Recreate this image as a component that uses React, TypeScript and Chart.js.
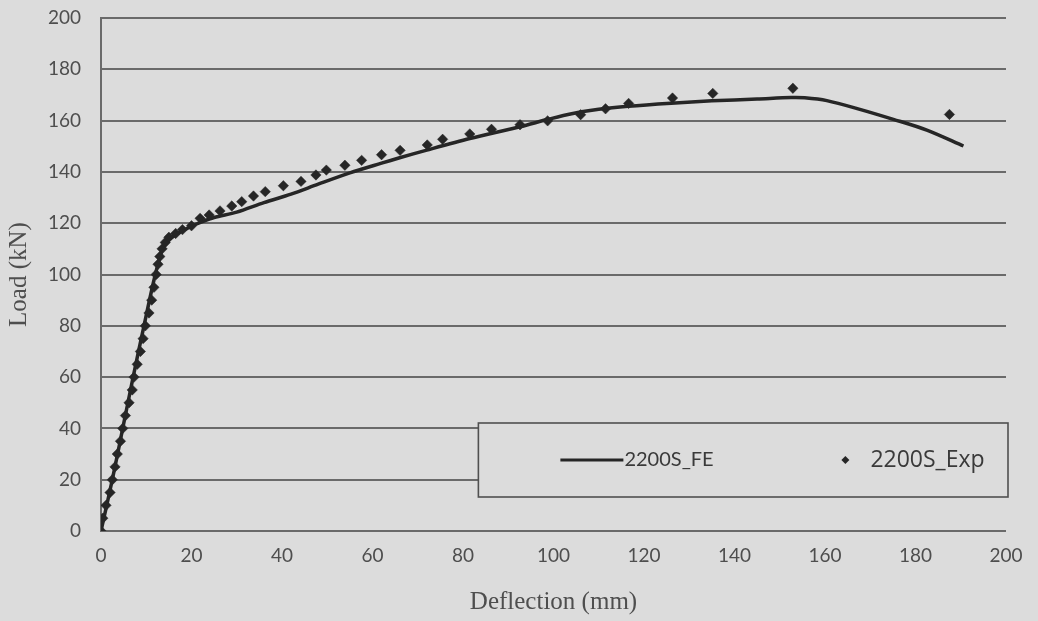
import React, { useEffect, useRef } from "react";
import { Chart, registerables } from "chart.js";

Chart.register(...registerables);

// FE curve (deflection mm, load kN)
const feDeflection = [0, 2.5, 4.8, 7.1, 9.5, 12, 13.8, 15, 16.5, 18, 20, 22, 25, 30, 36, 42, 48, 55, 62, 66, 72, 81.5, 92.6, 98.8, 104, 110, 116.5, 126, 135, 145, 152.5, 155.5, 160.4, 167.7, 175.1, 182.5, 190.6];
const feLoad = [0, 20, 40, 60, 80, 100, 111, 113.5, 115.5, 117, 118.8, 120.3, 122.2, 124.3, 128, 131.3, 135.2, 139.6, 143.4, 145.5, 148.5, 153, 157.6, 160.5, 162.7, 164.4, 165.6, 166.8, 167.7, 168.4, 169, 168.9, 167.8, 164.4, 160.5, 156.3, 150.1];

// Experimental points
const expDeflection = [0, 0.4, 1.1, 2, 2.5, 3.1, 3.6, 4.3, 4.8, 5.4, 6.2, 6.9, 7.3, 8.0, 8.7, 9.3, 9.8, 10.6, 11.2, 11.7, 12.2, 12.6, 13.0, 13.5, 14.2, 15, 16.5, 18, 20, 21.9, 23.9, 26.3, 28.9, 31.1, 33.7, 36.3, 40.3, 44.2, 47.5, 49.8, 53.9, 57.6, 62, 66.1, 72.1, 75.5, 81.5, 86.3, 92.6, 98.7, 106, 111.5, 116.6, 126.3, 135.2, 152.9, 187.5];
const expLoad = [0, 5, 10, 15, 20, 25, 30, 35, 40, 45, 50, 55, 60, 65, 70, 75, 80, 85, 90, 95, 100, 104, 107, 110, 112.5, 114.5, 116, 117.5, 119, 121.9, 123.2, 124.8, 126.7, 128.4, 130.6, 132.3, 134.6, 136.3, 138.8, 140.7, 142.6, 144.5, 146.7, 148.4, 150.5, 152.7, 154.8, 156.6, 158.4, 159.9, 162.3, 164.6, 166.7, 168.8, 170.6, 172.6, 162.4];

const xTicks = [0, 20, 40, 60, 80, 100, 120, 140, 160, 180, 200];
const yTicks = [0, 20, 40, 60, 80, 100, 120, 140, 160, 180, 200];

const seriesNames = ["2200S_FE", "2200S_Exp"];

const BG = "#dcdcdc";
const GRID = "#6a6a6a";
const TEXT = "#4e4e4e";
const INK = "#262626";

const bgPlugin = {
  id: "bgFill",
  beforeDraw(chart: any) {
    const { ctx, width, height } = chart;
    ctx.save();
    ctx.fillStyle = BG;
    ctx.fillRect(0, 0, width, height);
    ctx.restore();
  },
};

const legendPlugin = {
  id: "boxLegend",
  afterDraw(chart: any) {
    const { ctx, chartArea } = chart;
    const w = chartArea.right - chartArea.left;
    const left = chartArea.left + w * 0.417;
    const right = chartArea.right + 2;
    const top = 423;
    const bottom = 497;
    ctx.save();
    ctx.fillStyle = BG;
    ctx.fillRect(left, top, right - left, bottom - top);
    ctx.strokeStyle = "#505050";
    ctx.lineWidth = 1.6;
    ctx.strokeRect(left, top, right - left, bottom - top);
    const cy = (top + bottom) / 2;
    // line sample
    ctx.strokeStyle = INK;
    ctx.lineWidth = 3;
    ctx.beginPath();
    ctx.moveTo(left + 82, cy);
    ctx.lineTo(left + 145, cy);
    ctx.stroke();
    ctx.fillStyle = "#3a3a3a";
    ctx.font = "20px Lato, 'Open Sans', sans-serif";
    ctx.textBaseline = "middle";
    ctx.textAlign = "left";
    ctx.fillText(seriesNames[0], left + 146, cy);
    // diamond
    const dx = left + 367;
    ctx.fillStyle = INK;
    ctx.beginPath();
    ctx.moveTo(dx, cy - 4);
    ctx.lineTo(dx + 4, cy);
    ctx.lineTo(dx, cy + 4);
    ctx.lineTo(dx - 4, cy);
    ctx.closePath();
    ctx.fill();
    ctx.fillStyle = "#3a3a3a";
    ctx.font = "23px 'Open Sans', Lato, sans-serif";
    ctx.fillText(seriesNames[1], left + 392, cy);
    ctx.restore();
  },
};

export default function App() {
  const ref = useRef<HTMLCanvasElement>(null);

  useEffect(() => {
    if (!ref.current) return;
    const chart = new Chart(ref.current, {
      type: "scatter",
      data: {
        datasets: [
          {
            label: seriesNames[0],
            data: feDeflection.map((x, i) => ({ x, y: feLoad[i] })),
            showLine: true,
            borderColor: INK,
            borderWidth: 3.5,
            pointRadius: 0,
            tension: 0.3,
            order: 2,
          },
          {
            label: seriesNames[1],
            data: expDeflection.map((x, i) => ({ x, y: expLoad[i] })),
            showLine: false,
            pointStyle: "rectRot",
            pointRadius: 5.2,
            backgroundColor: INK,
            borderColor: INK,
            borderWidth: 0.5,
            order: 1,
          },
        ],
      },
      options: {
        responsive: false,
        animation: false,
        layout: { padding: { top: 18, right: 32, left: 0, bottom: 0 } },
        plugins: {
          legend: { display: false },
          tooltip: { enabled: false },
        },
        scales: {
          x: {
            type: "linear",
            min: 0,
            max: 200,
            afterBuildTicks: (axis: any) => {
              axis.ticks = xTicks.map((v) => ({ value: v }));
            },
            afterFit: (axis: any) => {
              axis.height = 90;
            },
            grid: { display: false, drawTicks: false },
            border: { display: false },
            ticks: {
              color: TEXT,
              padding: 13,
              maxRotation: 0,
              font: { family: "Lato, 'Open Sans', sans-serif", size: 19 },
            },
            title: {
              display: true,
              text: "Deflection (mm)",
              color: TEXT,
              padding: { top: 4 },
              font: { family: "'Liberation Serif', 'DejaVu Serif', serif", size: 25 },
            },
          },
          y: {
            type: "linear",
            min: 0,
            max: 200,
            afterBuildTicks: (axis: any) => {
              axis.ticks = yTicks.map((v) => ({ value: v }));
            },
            afterFit: (axis: any) => {
              axis.width = 101;
              axis.paddingTop = 0;
              axis.paddingBottom = 0;
            },
            grid: { color: GRID, lineWidth: 2, drawTicks: false },
            border: { display: true, color: GRID, width: 2 },
            ticks: {
              color: TEXT,
              padding: 20,
              font: { family: "Lato, 'Open Sans', sans-serif", size: 19 },
            },
            title: {
              display: true,
              text: "Load (kN)",
              color: TEXT,
              padding: { bottom: 2 },
              font: { family: "'Liberation Serif', 'DejaVu Serif', serif", size: 25 },
            },
          },
        },
      },
      plugins: [bgPlugin, legendPlugin],
    });
    return () => chart.destroy();
  }, []);

  return (
    <div style={{ position: "fixed", left: 0, top: 0, width: 1038, height: 621 }}>
      <canvas ref={ref} width={1038} height={621} />
    </div>
  );
}
